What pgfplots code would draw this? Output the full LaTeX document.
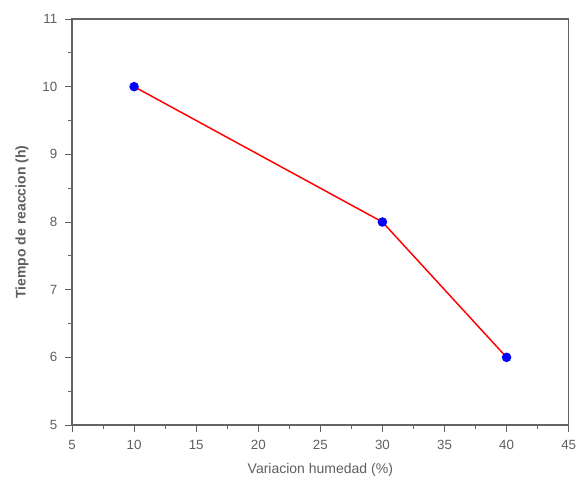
\documentclass[border=0pt]{standalone}
\usepackage{pgfplots}
\pgfplotsset{compat=1.18}
\usepackage{fontspec}
\setmainfont{Liberation Sans}
\definecolor{axgray}{RGB}{100,100,100}
\definecolor{txtgray}{RGB}{95,95,95}
\begin{document}
\begin{tikzpicture}
\begin{axis}[
  name=ax,
  scale only axis,
  width=372.5pt, height=304.5pt,
  xmin=5, xmax=45, ymin=5, ymax=11,
  xtick={5,10,...,45}, ytick={5,6,...,11},
  minor x tick num=1, minor y tick num=1,
  tick align=outside,
  xtick pos=bottom, ytick pos=left,
  major tick length=5pt, minor tick length=3pt,
  axis line style={axgray, line width=1pt},
  every tick/.style={axgray, line width=0.6pt},
  tick label style={txtgray, font=\fontsize{10}{12}\selectfont},
  xticklabel style={yshift=-3pt},
  yticklabel style={xshift=-2.5pt},
  /pgf/number format/assume math mode=true,
  xlabel={Variacion humedad (\%)},
  ylabel={\textbf{Tiempo de reaccion (h)}},
  label style={txtgray, font=\fontsize{10.5}{12}\selectfont},
  xlabel style={at={([yshift=-34pt]axis description cs:0.5,0)}, anchor=center},
  ylabel style={at={([xshift=-37.5pt]axis description cs:0,0.5)}, anchor=center},
]
\addplot[red, line width=1.1pt, mark=*, mark size=3pt,
  mark options={draw=blue, fill=blue}] coordinates {(10,10) (30,8) (40,6)};
\end{axis}
\draw[axgray, line width=1pt] (ax.north west) -- (ax.north east) -- (ax.south east);
\pgfresetboundingbox
\path ([shift={(-54pt,-45pt)}]ax.south west) rectangle ([shift={(6.25pt,14.25pt)}]ax.north east);
\end{tikzpicture}
\end{document}
